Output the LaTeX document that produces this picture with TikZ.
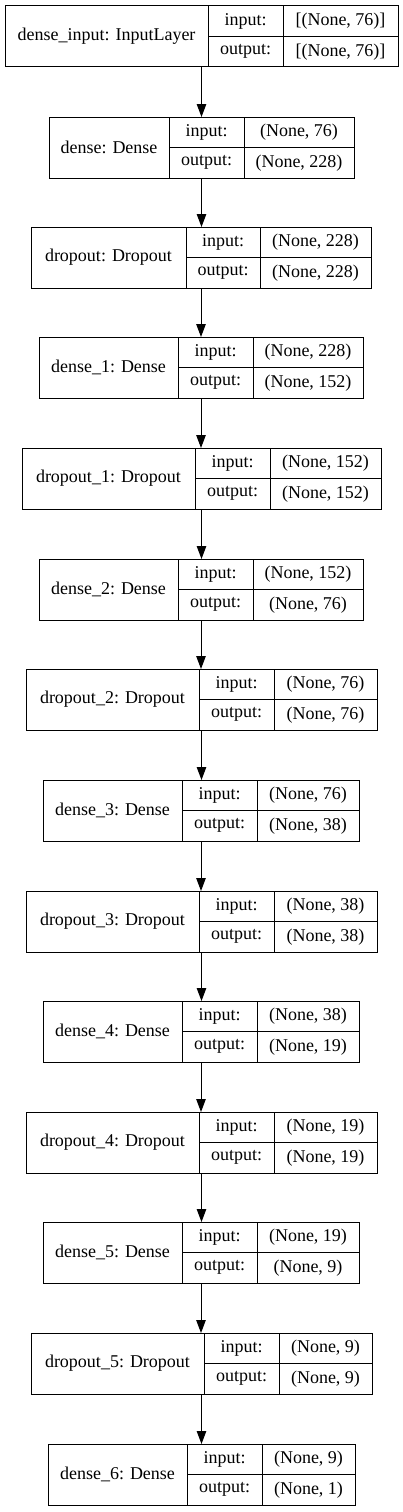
\documentclass[tikz,border=0pt]{standalone}
\usepackage{fontspec}
\setmainfont{Liberation Serif}
\usetikzlibrary{arrows.meta}
\tikzset{
  cell/.style={draw, line width=1pt, inner sep=0pt, outer sep=0pt, anchor=north west,
    font=\fontsize{18}{21}\selectfont},
  conn/.style={-{Triangle[length=13pt,width=9.5pt]}, line width=1pt},
}
% #1 id, #2 top, #3 x0, #4 d1, #5 d2, #6 x3, #7 label, #8 in, #9 out
\newcommand\mklayer[9]{%
  \node[cell, minimum width={(#6-#3)*1pt}, minimum height=61pt] (#1) at (#3,-#2) {};
  \node[cell, minimum width={(#4-#3)*1pt}, minimum height=61pt] (#1l) at (#3,-#2) {#7};
  \node[cell, minimum width={(#5-#4)*1pt}, minimum height=30.5pt] (#1a) at (#4,-#2) {input:};
  \node[cell, minimum width={(#5-#4)*1pt}, minimum height=30.5pt] (#1b) at (#4,-#2-30.5) {output:};
  \node[cell, minimum width={(#6-#5)*1pt}, minimum height=30.5pt] (#1c) at (#5,-#2) {#8};
  \node[cell, minimum width={(#6-#5)*1pt}, minimum height=30.5pt] (#1d) at (#5,-#2-30.5) {#9};
}
\begin{document}
\begin{tikzpicture}[x=1pt,y=1pt]
\useasboundingbox (0,0) rectangle (403,-1512);
\mklayer{L0}{6}{5}{208}{283}{398}{dense\_input: InputLayer}{[(None, 76)]}{[(None, 76)]}
\mklayer{L1}{117}{49}{169}{244}{354}{dense: Dense}{(None, 76)}{(None, 228)}
\mklayer{L2}{227}{31}{186}{260}{371}{dropout: Dropout}{(None, 228)}{(None, 228)}
\mklayer{L3}{337}{39}{178}{253}{363}{dense\_1: Dense}{(None, 228)}{(None, 152)}
\mklayer{L4}{448}{22}{195}{270}{381}{dropout\_1: Dropout}{(None, 152)}{(None, 152)}
\mklayer{L5}{559}{39}{178}{253}{363}{dense\_2: Dense}{(None, 152)}{(None, 76)}
\mklayer{L6}{669}{26}{199}{274}{377}{dropout\_2: Dropout}{(None, 76)}{(None, 76)}
\mklayer{L7}{780}{43}{182}{257}{359}{dense\_3: Dense}{(None, 76)}{(None, 38)}
\mklayer{L8}{891}{26}{199}{274}{377}{dropout\_3: Dropout}{(None, 38)}{(None, 38)}
\mklayer{L9}{1001}{43}{182}{257}{359}{dense\_4: Dense}{(None, 38)}{(None, 19)}
\mklayer{L10}{1112}{26}{199}{274}{377}{dropout\_4: Dropout}{(None, 19)}{(None, 19)}
\mklayer{L11}{1222}{43}{182}{257}{359}{dense\_5: Dense}{(None, 19)}{(None, 9)}
\mklayer{L12}{1333}{31}{204}{279}{372}{dropout\_5: Dropout}{(None, 9)}{(None, 9)}
\mklayer{L13}{1444}{48}{187}{262}{355}{dense\_6: Dense}{(None, 9)}{(None, 1)}
\foreach \a/\b in {L0/L1,L1/L2,L2/L3,L3/L4,L4/L5,L5/L6,L6/L7,L7/L8,L8/L9,L9/L10,L10/L11,L11/L12,L12/L13}
  \draw[conn] (\a.south) -- (\a.south |- \b.north);
\end{tikzpicture}
\end{document}
